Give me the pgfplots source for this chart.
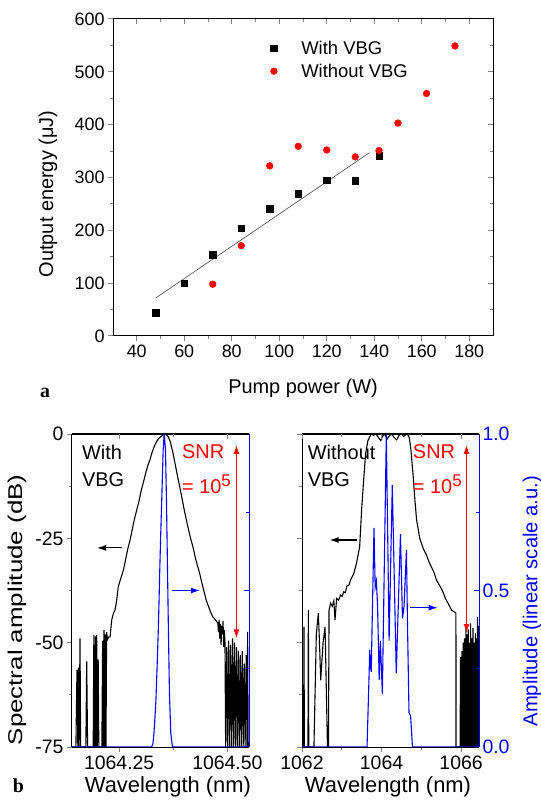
\documentclass[border=0pt]{standalone}
\usepackage{fontspec}
\setmainfont{Liberation Sans}
\newfontfamily\serifbf{Liberation Serif}
\usepackage{pgfplots}
\pgfplotsset{compat=1.18}
\usetikzlibrary{arrows.meta}

\definecolor{myred}{RGB}{255,0,0}
\definecolor{myblue}{RGB}{0,0,255}
\definecolor{fitgray}{RGB}{90,90,90}

\pgfplotsset{
  base/.style={
    scale only axis,
    /pgf/number format/assume math mode=true,
    axis line style={line width=1bp,-},
    tick style={line width=1bp},
    major tick length=5bp,
    minor tick length=3bp,
  },
}
\newcommand{\snr}{SNR\\[8bp]= 10\raisebox{7bp}{\fontsize{17}{17}\selectfont 5}}

\begin{document}
\begin{tikzpicture}
\useasboundingbox (0,0) rectangle (541bp,800bp);

% ---------------- panel a ----------------
\begin{axis}[base,
  at={(113bp,464bp)}, anchor=south west, width=380bp, height=317bp,
  xmin=30, xmax=190, ymin=0, ymax=600,
  xtick={40,60,80,100,120,140,160,180}, ytick={0,100,200,300,400,500,600},
  minor x tick num=1, minor y tick num=1,
  tick align=outside, xtick pos=left, ytick pos=left,
  tick label style={font=\fontsize{18}{21}\selectfont},
  xlabel={Pump power (W)}, ylabel={Output energy (μJ)},
  label style={font=\fontsize{20}{24}\selectfont},
  xlabel style={at={(axis description cs:0.5,-0.164)}, anchor=center},
  ylabel style={at={(axis description cs:-0.171,0.448)}, anchor=center},
  legend style={at={(axis description cs:0.414,0.945)}, anchor=north west,
    draw=none, fill=none, inner sep=0pt, column sep=22bp, row sep=0bp,
    font=\fontsize{18.5}{22}\selectfont,
    nodes={text height=13bp, text depth=0bp, inner ysep=5bp}},
  legend cell align=left,
]
\addplot[only marks, mark=square*, mark size=3.3bp, black] table {
x y
48 44
60 100
72 154
84 204
96 241
108 269
120 295
132 294
142 341
};
\addlegendentry{With VBG}
\addplot[only marks, mark=*, mark size=3.4bp, myred] table {
x y
72 98
84 171
96 322
108 359
120 352
132 339
142 351
150 403
162 459
174 549
};
\addlegendentry{Without VBG}
\addplot[fitgray, line width=0.7bp, forget plot] coordinates {(48,72) (138,347)};
\end{axis}
% mirrored inside ticks
\begin{axis}[base,
  at={(113bp,464bp)}, anchor=south west, width=380bp, height=317bp,
  xmin=30, xmax=190, ymin=0, ymax=600,
  xtick={40,60,80,100,120,140,160,180}, ytick={0,100,200,300,400,500,600},
  minor x tick num=1, minor y tick num=1,
  tick align=inside, xtick pos=right, ytick pos=right,
  xticklabels={}, yticklabels={},
]
\end{axis}

% ---------------- panel b, left ----------------
\begin{axis}[base,
  at={(72bp,53bp)}, anchor=south west, width=177bp, height=313bp,
  xmin=1064.141, xmax=1064.55, ymin=-75, ymax=0,
  axis y line*=left,
  xtick={1064.25,1064.5}, xticklabels={1064.25,1064.50},
  ytick={-75,-50,-25,0}, yticklabels={-75,-50,-25,0},
  minor x tick num=1, minor y tick num=1,
  tick align=outside, xtick pos=left, ytick pos=left,
  tick label style={font=\fontsize{19.5}{22}\selectfont},
  xlabel={Wavelength (nm)},
  ylabel={\scalebox{1.3}[1]{Spectral amplitude (dB)}},
  xlabel style={font=\fontsize{22}{26}\selectfont, at={(axis description cs:0.542,-0.128)}, anchor=center},
  ylabel style={font=\fontsize{20}{24}\selectfont, at={(axis description cs:-0.311,0.438)}, anchor=center},
]
\addplot[black, line width=1.1bp] table {
x y
1064.1410 -75
1064.1500 -75
1064.1525 -56.5
1064.1545 -75
1064.1560 -56
1064.1575 -75
1064.1595 -49
1064.1610 -75
1064.1730 -75
1064.1750 -54.5
1064.1770 -75
1064.1900 -75
1064.1915 -48.2
1064.1930 -75
1064.1950 -48.5
1064.1965 -75
1064.1980 -48.2
1064.1995 -75
1064.2015 -54
1064.2030 -75
1064.2100 -75
1064.2118 -49.5
1064.2133 -75
1064.2150 -47
1064.2165 -75
1064.2180 -48
1064.2195 -75
1064.2210 -47.5
1064.2230 -49.2
1064.2260 -48.6
1064.2290 -48.6
1064.2327 -44.6
1064.2365 -43
1064.2403 -42.2
1064.2440 -40
1064.2479 -36.6
1064.2540 -34.5
1064.2599 -32.6
1064.2650 -30
1064.2700 -27.5
1064.2752 -25.4
1064.2800 -23
1064.2850 -20.5
1064.2906 -18.2
1064.2960 -16
1064.3010 -13.5
1064.3057 -11.7
1064.3110 -9.5
1064.3160 -7.6
1064.3211 -6.2
1064.3260 -4.4
1064.3310 -3
1064.3365 -1.8
1064.3420 -1
1064.3479 -0.5
1064.3520 -0.2
1064.3555 0
1064.3590 -0.2
1064.3631 -0.6
1064.3680 -1.8
1064.3745 -4.6
1064.3800 -7.5
1064.3850 -10.2
1064.3899 -12.6
1064.3950 -15.3
1064.4000 -18
1064.4053 -20.6
1064.4100 -22.8
1064.4150 -25
1064.4204 -27.0
1064.4250 -29.2
1064.4300 -31.2
1064.4358 -33.3
1064.4400 -35.2
1064.4450 -37.3
1064.4511 -39.8
1064.4560 -41.2
1064.4610 -42.6
1064.4663 -43.8
1064.4720 -44.5
1064.4778 -45.3
1064.4795 -47.5
1064.4810 -44.5
1064.4825 -49
1064.4840 -45.5
1064.4855 -50.5
1064.4870 -46
1064.4885 -48
1064.4900 -44.8
1064.4915 -51
1064.4930 -47
1064.4945 -50
1064.4960 -75
1064.4985 -51
1064.5005 -75
1064.5030 -49.5
1064.5050 -75
1064.5075 -50.5
1064.5095 -75
1064.5120 -49
1064.5140 -75
1064.5165 -50
1064.5185 -75
1064.5210 -51
1064.5230 -75
1064.5255 -52
1064.5275 -75
1064.5300 -53
1064.5320 -75
1064.5345 -52
1064.5365 -75
1064.5390 -55
1064.5410 -75
1064.5435 -53
1064.5455 -75
1064.5468 -47.4
1064.5482 -75
1064.5500 -75
};
\node[anchor=north west, inner sep=0pt, align=left, font=\fontsize{20}{27}\selectfont] at (axis cs:1064.164,-2.6) {With\\VBG};
\node[anchor=north west, inner sep=0pt, align=left, text=myred, font=\fontsize{20}{27}\selectfont] at (axis cs:1064.395,-2.6) {\snr};
\draw[myred, line width=1.3bp, {Latex[length=9bp,width=6bp]}-{Latex[length=9bp,width=6bp]}] (axis cs:1064.521,-2.6) -- (axis cs:1064.521,-49);
\draw[black, line width=1.1bp, -{Latex[length=9bp,width=6bp]}] (axis cs:1064.2565,-27.3) -- (axis cs:1064.1988,-27.3);
\end{axis}
\begin{axis}[base,
  at={(72bp,53bp)}, anchor=south west, width=177bp, height=313bp,
  xmin=1064.141, xmax=1064.55, ymin=0, ymax=1,
  axis x line*=top, axis y line*=right,
  x axis line style={black}, y axis line style={myblue},
  xtick={1064.25,1064.5}, xticklabels={},
  ytick={0,0.5,1}, yticklabels={},
  minor x tick num=1, minor y tick num=1,
  tick align=inside, xtick pos=right, ytick pos=right,
  y tick style={myblue},
]
\addplot[myblue, line width=1.1bp] table {
x y
1064.1410 0
1064.3249 0
1064.3280 0.01
1064.3303 0.043
1064.3325 0.09
1064.3349 0.149
1064.3375 0.25
1064.3402 0.363
1064.3420 0.46
1064.3440 0.576
1064.3460 0.68
1064.3479 0.768
1064.3500 0.87
1064.3517 0.95
1064.3540 1.0
1064.3570 0.95
1064.3593 0.79
1064.3616 0.576
1064.3639 0.363
1064.3662 0.17
1064.3693 0.043
1064.3731 0
1064.5500 0
};
\draw[myblue, line width=1.1bp, -{Latex[length=9bp,width=6bp]}] (axis cs:1064.372,0.5) -- (axis cs:1064.4365,0.5);
\end{axis}

% ---------------- panel b, right ----------------
\begin{axis}[base,
  at={(302bp,53bp)}, anchor=south west, width=177bp, height=313bp,
  xmin=1062, xmax=1066.45, ymin=-75, ymax=0,
  axis y line*=left,
  xtick={1062,1064,1066}, xticklabels={1062,1064,1066},
  ytick={-75,-50,-25,0}, yticklabels={},
  minor x tick num=1, minor y tick num=1,
  tick align=outside, xtick pos=left, ytick pos=left,
  tick label style={font=\fontsize{19.5}{22}\selectfont},
  xlabel={Wavelength (nm)},
  xlabel style={font=\fontsize{22}{26}\selectfont, at={(axis description cs:0.486,-0.128)}, anchor=center},
]
\addplot[black, line width=1.1bp] table {
x y
1062.000 -75
1062.040 -75
1062.050 -46.2
1062.060 -75
1062.150 -75
1062.160 -42.2
1062.170 -75
1062.300 -75
1062.360 -48
1062.410 -42.9
1062.440 -50
1062.470 -59
1062.530 -50
1062.580 -46.2
1062.640 -75
1062.665 -75
1062.680 -42.2
1062.720 -40.5
1062.760 -41.3
1062.800 -40
1062.830 -44.6
1062.870 -39.4
1062.920 -39.8
1062.970 -38.6
1063.010 -38.9
1063.050 -37.8
1063.090 -38
1063.130 -36.4
1063.180 -36.2
1063.220 -35
1063.300 -33.5
1063.370 -31
1063.450 -27
1063.500 -18
1063.550 -11
1063.600 -4.6
1063.660 -1.5
1063.740 0
1063.800 -0.3
1063.860 0
1063.920 -0.8
1063.980 -1.6
1064.030 -0.5
1064.080 0
1064.140 -1.2
1064.200 -0.4
1064.260 0
1064.320 -0.9
1064.380 -1.4
1064.440 -0.3
1064.500 0
1064.560 -0.6
1064.620 0
1064.670 -0.3
1064.700 -1
1064.740 -4
1064.790 -9.5
1064.840 -16
1064.880 -20.5
1064.960 -25
1065.050 -27.5
1065.130 -29
1065.200 -30.8
1065.260 -32
1065.320 -33.2
1065.380 -35
1065.460 -36.3
1065.550 -38
1065.610 -39.5
1065.670 -40.5
1065.760 -42.2
1065.870 -42.9
1065.872 -75
1065.975 -75
1065.985 -53.4
1065.995 -75
1066.010 -75
1066.020 -52
1066.030 -75
1066.040 -75
1066.050 -50
1066.060 -75
1066.075 -75
1066.085 -49
1066.095 -75
1066.110 -75
1066.120 -46.2
1066.130 -75
1066.140 -75
1066.150 -48
1066.160 -75
1066.170 -75
1066.180 -46.8
1066.190 -75
1066.200 -75
1066.210 -50
1066.220 -75
1066.230 -75
1066.240 -45.4
1066.250 -75
1066.260 -75
1066.270 -49
1066.280 -75
1066.290 -75
1066.300 -46.5
1066.310 -75
1066.320 -75
1066.330 -50
1066.340 -75
1066.350 -75
1066.360 -47.8
1066.370 -75
1066.380 -75
1066.390 -49
1066.400 -75
1066.405 -75
1066.412 -43.8
1066.420 -75
1066.430 -75
1066.440 -46
1066.450 -75
};
\node[anchor=north west, inner sep=0pt, align=left, font=\fontsize{20}{27}\selectfont] at (axis cs:1062.143,-2.6) {Without\\VBG};
\node[anchor=north west, inner sep=0pt, align=left, text=myred, font=\fontsize{20}{27}\selectfont] at (axis cs:1064.785,-2.6) {\snr};
\draw[myred, line width=1.3bp, {Latex[length=9bp,width=6bp]}-{Latex[length=9bp,width=6bp]}] (axis cs:1066.136,-2.6) -- (axis cs:1066.136,-47.7);
\draw[black, line width=1.1bp, -{Latex[length=9bp,width=6bp]}] (axis cs:1063.384,-25.4) -- (axis cs:1062.697,-25.4);
\end{axis}
\begin{axis}[base,
  at={(302bp,53bp)}, anchor=south west, width=177bp, height=313bp,
  xmin=1062, xmax=1066.45, ymin=0, ymax=1,
  axis x line*=top, axis y line*=right,
  x axis line style={black}, y axis line style={myblue},
  xtick={1062,1064,1066}, xticklabels={},
  ytick={0,0.5,1}, yticklabels={0.0,0.5,1.0},
  minor x tick num=1, minor y tick num=1,
  tick align=inside, xtick pos=right, ytick pos=right,
  y tick style={myblue},
  y tick label style={font=\fontsize{19.5}{22}\selectfont, text=myblue},
  ylabel={Amplitude (linear scale a.u.)},
  ylabel style={font=\fontsize{20.3}{24}\selectfont, text=myblue, at={(axis description cs:1.30,0.466)}, anchor=center},
]
\addplot[myblue, line width=1.1bp] table {
x y
1062.000 0
1063.635 0
1063.680 0.2
1063.703 0.31
1063.720 0.26
1063.740 0.24
1063.810 0.70
1063.840 0.51
1063.870 0.53
1063.900 0.45
1063.940 0.214
1063.970 0.34
1064.020 0.17
1064.120 1.0
1064.190 0.34
1064.270 0.837
1064.370 0.236
1064.475 0.68
1064.526 0.41
1064.566 0.45
1064.626 0.63
1064.650 0.41
1064.690 0.11
1064.730 0.10
1064.777 0
1066.450 0
};
\draw[myblue, line width=1.1bp, -{Latex[length=9bp,width=6bp]}] (axis cs:1064.71,0.445) -- (axis cs:1065.41,0.445);
\end{axis}

\node[font=\serifbf\bfseries\fontsize{20}{24}\selectfont] at (45bp,407bp) {a};
\node[font=\serifbf\bfseries\fontsize{20}{24}\selectfont] at (18.5bp,14bp) {b};
\end{tikzpicture}
\end{document}
